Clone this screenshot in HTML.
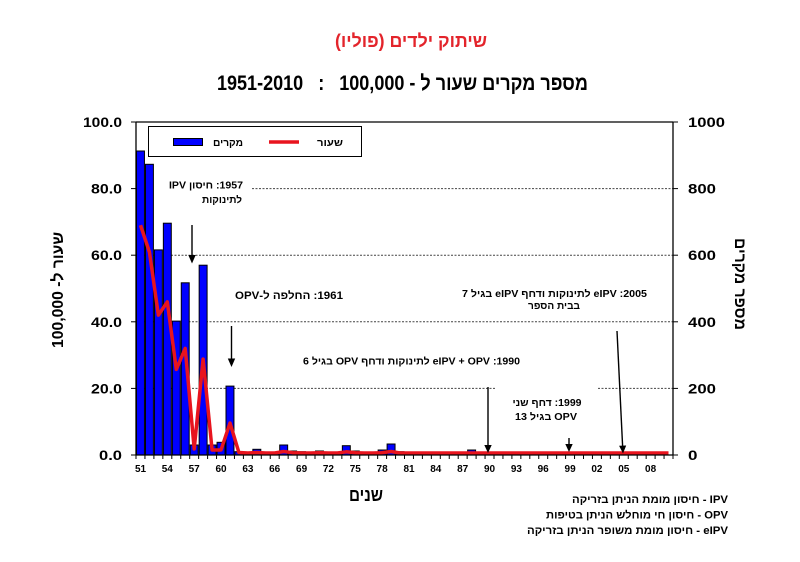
<!DOCTYPE html>
<html>
<head>
<meta charset="utf-8">
<style>
  html,body{margin:0;padding:0;background:#fff;}
  svg{display:block;}
  text{font-family:"Liberation Sans","DejaVu Sans",sans-serif;font-weight:bold;}
</style>
</head>
<body>
<svg width="800" height="562" viewBox="0 0 800 562" xmlns="http://www.w3.org/2000/svg">
  <rect x="0" y="0" width="800" height="562" fill="#fff"/>

  <!-- Titles -->
  <text x="411" y="47" font-size="18" fill="#e3242b" text-anchor="middle" direction="rtl" textLength="152" lengthAdjust="spacingAndGlyphs">שיתוק ילדים (פוליו)</text>
  <text x="402.5" y="90" font-size="21" fill="#000" text-anchor="middle" direction="rtl" style="white-space:pre" textLength="371" lengthAdjust="spacingAndGlyphs">מספר מקרים שעור ל - 100,000   :   1951-2010</text>

  <!-- Gridlines -->
  <g stroke="#444" stroke-width="1" stroke-dasharray="2,1.5">
    <line x1="252" y1="188.6" x2="673" y2="188.6"/>
    <line x1="136" y1="255.2" x2="673" y2="255.2"/>
    <line x1="136" y1="321.8" x2="673" y2="321.8"/>
    <line x1="136" y1="388.4" x2="495" y2="388.4"/>
    <line x1="598" y1="388.4" x2="673" y2="388.4"/>
  </g>

  <!-- Bars -->
  <g fill="#0000ff" stroke="#000" stroke-width="1">
    <rect x="136.5" y="151.0" width="7.95" height="304.0"/>
    <rect x="145.45" y="164.3" width="7.95" height="290.7"/>
    <rect x="154.4" y="249.9" width="7.95" height="205.1"/>
    <rect x="163.35" y="223.2" width="7.95" height="231.8"/>
    <rect x="172.3" y="321.1" width="7.95" height="133.9"/>
    <rect x="181.25" y="282.8" width="7.95" height="172.2"/>
    <rect x="190.2" y="445" width="7.95" height="10"/>
    <rect x="199.15" y="265.2" width="7.95" height="189.8"/>
    <rect x="208.1" y="445" width="7.95" height="10"/>
    <rect x="217.05" y="442.3" width="7.95" height="12.7"/>
    <rect x="226.0" y="386.1" width="7.95" height="68.9"/>
    <rect x="234.95" y="451.7" width="7.95" height="3.3"/>
    <rect x="243.9" y="454.3" width="7.95" height="0.7"/>
    <rect x="252.85" y="449.3" width="7.95" height="5.7"/>
    <rect x="261.8" y="454" width="7.95" height="1"/>
    <rect x="270.75" y="453.3" width="7.95" height="1.7"/>
    <rect x="279.7" y="445" width="7.95" height="10"/>
    <rect x="288.65" y="451" width="7.95" height="4"/>
    <rect x="297.6" y="451.7" width="7.95" height="3.3"/>
    <rect x="306.55" y="452.3" width="7.95" height="2.7"/>
    <rect x="315.5" y="451" width="7.95" height="4"/>
    <rect x="324.45" y="453.3" width="7.95" height="1.7"/>
    <rect x="333.4" y="453.7" width="7.95" height="1.3"/>
    <rect x="342.35" y="445.7" width="7.95" height="9.3"/>
    <rect x="351.3" y="451" width="7.95" height="4"/>
    <rect x="360.25" y="453" width="7.95" height="2"/>
    <rect x="369.2" y="453.7" width="7.95" height="1.3"/>
    <rect x="378.15" y="450" width="7.95" height="5"/>
    <rect x="387.1" y="444" width="7.95" height="11"/>
    <rect x="396.05" y="451.7" width="7.95" height="3.3"/>
    <rect x="405.0" y="454" width="7.95" height="1"/>
    <rect x="467.65" y="450" width="7.95" height="5"/>
  </g>

  <!-- Rate line -->
  <polyline fill="none" stroke="#e8141e" stroke-width="3.5" stroke-linejoin="round" points="
    140.5,225.2 149.4,251.9 158.4,315.1 167.3,301.8 176.3,369.4 185.2,348.4 194.2,449.0 203.1,359.1
    212.1,450.0 221.0,450.0 230.0,423.0 238.9,452.5 247.9,453.0 256.8,452.5 265.8,453.0 274.7,453.0
    283.7,451.5 292.6,452.7 301.6,453.0 310.5,453.0 319.5,452.7 328.4,453.0 337.4,453.0 346.3,451.8
    355.3,452.7 364.2,453.0 373.2,453.0 382.1,452.7 391.1,451.5 400.0,453.0 409.0,453.0 417.9,453.0
    668.5,453.0"/>

  <!-- Frame / axes -->
  <g stroke="#000" stroke-width="1.3" fill="none">
    <line x1="136" y1="122" x2="673" y2="122"/>
    <line x1="136" y1="122" x2="136" y2="455"/>
    <line x1="673" y1="122" x2="673" y2="455"/>
    <line x1="136" y1="455" x2="673" y2="455"/>
  </g>
  <!-- Y ticks -->
  <g stroke="#000" stroke-width="1">
    <line x1="131" y1="122" x2="136" y2="122"/>
    <line x1="131" y1="188.6" x2="136" y2="188.6"/>
    <line x1="131" y1="255.2" x2="136" y2="255.2"/>
    <line x1="131" y1="321.8" x2="136" y2="321.8"/>
    <line x1="131" y1="388.4" x2="136" y2="388.4"/>
    <line x1="131" y1="455" x2="136" y2="455"/>
    <line x1="673" y1="122" x2="678" y2="122"/>
    <line x1="673" y1="188.6" x2="678" y2="188.6"/>
    <line x1="673" y1="255.2" x2="678" y2="255.2"/>
    <line x1="673" y1="321.8" x2="678" y2="321.8"/>
    <line x1="673" y1="388.4" x2="678" y2="388.4"/>
    <line x1="673" y1="455" x2="678" y2="455"/>
  </g>
  <!-- X minor ticks -->
  <g stroke="#000" stroke-width="1">
    <path d="M136,455v4M144.95,455v4M153.9,455v4M162.85,455v4M171.8,455v4M180.75,455v4M189.7,455v4M198.65,455v4M207.6,455v4M216.55,455v4M225.5,455v4M234.45,455v4M243.4,455v4M252.35,455v4M261.3,455v4M270.25,455v4M279.2,455v4M288.15,455v4M297.1,455v4M306.05,455v4M315,455v4M323.95,455v4M332.9,455v4M341.85,455v4M350.8,455v4M359.75,455v4M368.7,455v4M377.65,455v4M386.6,455v4M395.55,455v4M404.5,455v4M413.45,455v4M422.4,455v4M431.35,455v4M440.3,455v4M449.25,455v4M458.2,455v4M467.15,455v4M476.1,455v4M485.05,455v4M494,455v4M502.95,455v4M511.9,455v4M520.85,455v4M529.8,455v4M538.75,455v4M547.7,455v4M556.65,455v4M565.6,455v4M574.55,455v4M583.5,455v4M592.45,455v4M601.4,455v4M610.35,455v4M619.3,455v4M628.25,455v4M637.2,455v4M646.15,455v4M655.1,455v4M664.05,455v4M673,455v4"/>
  </g>

  <!-- Left tick labels -->
  <g font-size="14" fill="#000" text-anchor="end">
    <text x="122" y="127" textLength="39" lengthAdjust="spacingAndGlyphs">100.0</text>
    <text x="122" y="193.6" textLength="31" lengthAdjust="spacingAndGlyphs">80.0</text>
    <text x="122" y="260.2" textLength="31" lengthAdjust="spacingAndGlyphs">60.0</text>
    <text x="122" y="326.8" textLength="31" lengthAdjust="spacingAndGlyphs">40.0</text>
    <text x="122" y="393.4" textLength="31" lengthAdjust="spacingAndGlyphs">20.0</text>
    <text x="122" y="460" textLength="23" lengthAdjust="spacingAndGlyphs">0.0</text>
  </g>
  <!-- Right tick labels -->
  <g font-size="14" fill="#000" text-anchor="start">
    <text x="688" y="127" textLength="37" lengthAdjust="spacingAndGlyphs">1000</text>
    <text x="688" y="193.6" textLength="28" lengthAdjust="spacingAndGlyphs">800</text>
    <text x="688" y="260.2" textLength="28" lengthAdjust="spacingAndGlyphs">600</text>
    <text x="688" y="326.8" textLength="28" lengthAdjust="spacingAndGlyphs">400</text>
    <text x="688" y="393.4" textLength="28" lengthAdjust="spacingAndGlyphs">200</text>
    <text x="688" y="460" textLength="9.5" lengthAdjust="spacingAndGlyphs">0</text>
  </g>

  <!-- X tick labels -->
  <g font-size="10" fill="#000" text-anchor="middle">
    <text x="140.5" y="472">51</text>
    <text x="167.3" y="472">54</text>
    <text x="194.2" y="472">57</text>
    <text x="221.0" y="472">60</text>
    <text x="247.9" y="472">63</text>
    <text x="274.7" y="472">66</text>
    <text x="301.6" y="472">69</text>
    <text x="328.4" y="472">72</text>
    <text x="355.3" y="472">75</text>
    <text x="382.1" y="472">78</text>
    <text x="409.0" y="472">81</text>
    <text x="435.8" y="472">84</text>
    <text x="462.7" y="472">87</text>
    <text x="489.5" y="472">90</text>
    <text x="516.4" y="472">93</text>
    <text x="543.2" y="472">96</text>
    <text x="570.1" y="472">99</text>
    <text x="596.9" y="472">02</text>
    <text x="623.8" y="472">05</text>
    <text x="650.6" y="472">08</text>
  </g>

  <!-- Axis titles -->
  <text transform="translate(63,290) rotate(-90)" x="0" y="0" font-size="16" text-anchor="middle" direction="rtl" textLength="116" lengthAdjust="spacingAndGlyphs">שעור ל- 100,000</text>
  <text transform="translate(735,284) rotate(90)" x="0" y="0" font-size="16" text-anchor="middle" direction="rtl" textLength="92" lengthAdjust="spacingAndGlyphs">מספר מקרים</text>
  <text x="366" y="501" font-size="18" text-anchor="middle" direction="rtl" textLength="34" lengthAdjust="spacingAndGlyphs">שנים</text>

  <!-- Legend -->
  <rect x="148.5" y="126.5" width="213" height="30" fill="#fff" stroke="#000" stroke-width="1"/>
  <rect x="173.5" y="138.5" width="29" height="7" fill="#0000ff" stroke="#000" stroke-width="1"/>
  <text x="228" y="146" font-size="10" text-anchor="middle" direction="rtl" textLength="30" lengthAdjust="spacingAndGlyphs">מקרים</text>
  <line x1="269" y1="142" x2="299" y2="142" stroke="#e8141e" stroke-width="3.5"/>
  <text x="330" y="146" font-size="10" text-anchor="middle" direction="rtl" textLength="26" lengthAdjust="spacingAndGlyphs">שעור</text>

  <!-- Annotations -->
  <g font-size="10" fill="#000" text-anchor="middle" direction="rtl">
    <text x="206" y="188.5" textLength="74" lengthAdjust="spacingAndGlyphs">1957: חיסון IPV</text>
    <text x="222" y="203" textLength="40" lengthAdjust="spacingAndGlyphs">לתינוקות</text>
    <text x="289" y="299" font-size="11" textLength="108" lengthAdjust="spacingAndGlyphs">1961: החלפה ל-OPV</text>
    <text x="554.5" y="297" textLength="185" lengthAdjust="spacingAndGlyphs">2005:  eIPV לתינוקות ודחף   eIPV בגיל 7</text>
    <text x="554" y="309" textLength="52" lengthAdjust="spacingAndGlyphs">בבית הספר</text>
    <text x="411.5" y="364.5" textLength="217" lengthAdjust="spacingAndGlyphs">1990: eIPV + OPV לתינוקות ודחף OPV  בגיל 6</text>
    <text x="547" y="406" textLength="69" lengthAdjust="spacingAndGlyphs">1999: דחף שני</text>
    <text x="546" y="420" textLength="62" lengthAdjust="spacingAndGlyphs">OPV בגיל 13</text>
  </g>

  <!-- Arrows -->
  <g stroke="#000" stroke-width="1.4" fill="none">
    <line x1="192" y1="225" x2="192" y2="256"/>
    <line x1="231.5" y1="326" x2="231.5" y2="360"/>
    <line x1="488" y1="387" x2="488" y2="446"/>
    <line x1="569" y1="438" x2="569" y2="445"/>
    <line x1="617" y1="331" x2="622.6" y2="446"/>
  </g>
  <g fill="#000">
    <polygon points="188.3,255 195.7,255 192,263.5"/>
    <polygon points="227.8,358.5 235.2,358.5 231.5,367"/>
    <polygon points="484.3,445 491.7,445 488,453"/>
    <polygon points="565.3,444 572.7,444 569,452"/>
    <polygon points="619.1,445.8 626.2,445.5 623,453.5"/>
  </g>

  <!-- Bottom notes -->
  <g font-size="11" fill="#000" text-anchor="middle" direction="rtl">
    <text x="650" y="503" textLength="156" lengthAdjust="spacingAndGlyphs">IPV - חיסון מומת הניתן בזריקה</text>
    <text x="637" y="518.5" textLength="182" lengthAdjust="spacingAndGlyphs">OPV - חיסון חי מוחלש הניתן בטיפות</text>
    <text x="627.5" y="534" textLength="201" lengthAdjust="spacingAndGlyphs">eIPV - חיסון מומת משופר הניתן בזריקה</text>
  </g>
</svg>
</body>
</html>
